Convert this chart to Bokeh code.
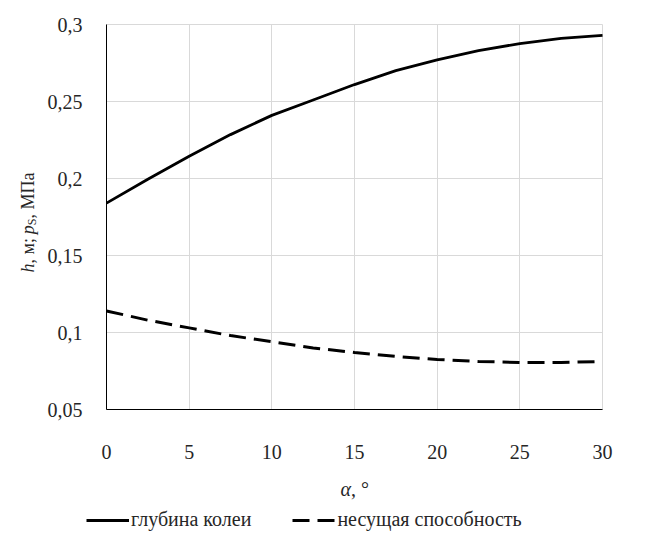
from bokeh.plotting import figure
from bokeh.models import (ColumnDataSource, FixedTicker, Label, Legend, LegendItem,
                          Range1d)
from bokeh.embed import file_html
from bokeh.resources import INLINE

# ---- data ----
alpha = [0, 2.5, 5, 7.5, 10, 12.5, 15, 17.5, 20, 22.5, 25, 27.5, 30]
rut_depth = [0.184, 0.1995, 0.2145, 0.2285, 0.241, 0.251, 0.261, 0.270,
             0.277, 0.283, 0.2876, 0.291, 0.293]
bearing_capacity = [0.114, 0.108, 0.103, 0.098, 0.094, 0.090, 0.087, 0.0845,
                    0.0825, 0.0812, 0.0805, 0.0805, 0.0812]

x_ticks = [0, 5, 10, 15, 20, 25, 30]
y_ticks = [0.05, 0.1, 0.15, 0.2, 0.25, 0.3]
y_tick_labels = ["0,05", "0,1", "0,15", "0,2", "0,25", "0,3"]
series_names = ["глубина колеи", "несущая способность"]

FONT = "Liberation Serif"
TXT = "#262626"
W, H = 665, 532
# plot area in canvas pixels
L, R, T, B = 106, 602, 24, 409
X0, X1 = x_ticks[0], x_ticks[-1]
Y0, Y1 = y_ticks[0], y_ticks[-1]
ux = (X1 - X0) / (R - L)   # data per px
uy = (Y1 - Y0) / (B - T)

src = ColumnDataSource(data=dict(a=alpha, h=rut_depth, p=bearing_capacity))

p = figure(width=W, height=H, output_backend="svg", toolbar_location=None,
           x_range=Range1d(X0 - L * ux, X1 + (W - R) * ux),
           y_range=Range1d(Y0 - (H - B) * uy, Y1 + T * uy),
           min_border=0)
p.outline_line_color = None
p.background_fill_color = "white"
p.border_fill_color = "white"

# grid
grid_ok = hasattr(p.xgrid[0], "cross_bounds")
if grid_ok:
    p.xgrid.cross_bounds = (Y0, Y1)
    p.ygrid.cross_bounds = (X0, X1)
    p.xgrid.grid_line_color = "#d9d9d9"
    p.ygrid.grid_line_color = "#d9d9d9"
else:
    p.xgrid.visible = False
    p.ygrid.visible = False
    p.segment(x0=x_ticks, y0=[Y0] * len(x_ticks), x1=x_ticks, y1=[Y1] * len(x_ticks),
              line_color="#d9d9d9", line_width=1)
    p.segment(x0=[X0] * len(y_ticks), y0=y_ticks, x1=[X1] * len(y_ticks), y1=y_ticks,
              line_color="#d9d9d9", line_width=1)

r1 = p.line("a", "h", source=src, line_color="black", line_width=2.8)
r2 = p.line("a", "p", source=src, line_color="black", line_width=3,
            line_dash="17 8")

# axes (drawn at data positions)
p.xaxis.ticker = FixedTicker(ticks=x_ticks)
p.yaxis.ticker = FixedTicker(ticks=y_ticks)
p.yaxis.major_label_overrides = {t: l for t, l in zip(y_ticks, y_tick_labels)}
p.xaxis.fixed_location = Y0
p.yaxis.fixed_location = X0
p.xaxis.bounds = (X0, X1)
p.yaxis.bounds = (Y0, Y1)
for ax in (p.xaxis[0], p.yaxis[0]):
    ax.major_tick_line_color = None
    ax.minor_tick_line_color = None
    ax.axis_line_color = "black"
    ax.axis_line_width = 1
    ax.major_label_text_font = FONT
    ax.major_label_text_font_size = "20px"
    ax.major_label_text_color = TXT
p.xaxis.major_label_standoff = 29
p.yaxis.major_label_standoff = 18

# x axis title: α, °
xl_y = Y0 - (488 - B) * uy
xj = X0 + (350.5 - L) * ux
p.add_layout(Label(x=xj, y=xl_y, text="α", text_font=FONT, text_font_size="20px",
                   text_font_style="italic", text_color=TXT, text_align="right",
                   text_baseline="middle"))
p.add_layout(Label(x=xj, y=xl_y, text=", °", text_font=FONT, text_font_size="20px",
                   text_color=TXT, text_align="left", text_baseline="middle"))

# y axis title: h, м; p_S, МПа (rotated)
base_x = X0 + (27 - L) * ux
y0 = Y1 - (272 - T) * uy
pieces = [
    ("h", "italic", 18, 0, 0),
    (", м; ", "normal", 18, 0, 9),
    ("p", "italic", 18, 0, 38.3),
    ("S", "normal", 12, 4, 47.3),
    (", МПа", "normal", 18, 0, 54.0),
]
for txt, style, size, dx, dy in pieces:
    p.add_layout(Label(x=base_x + dx * ux, y=y0 + dy * uy, text=txt,
                       angle=1.5707963, text_font=FONT,
                       text_font_size=f"{size}px", text_font_style=style,
                       text_color=TXT, text_align="left",
                       text_baseline="alphabetic"))

legend = Legend(items=[LegendItem(label=series_names[0], renderers=[r1]),
                       LegendItem(label=series_names[1], renderers=[r2])],
                orientation="horizontal", location=(86, 1),
                label_text_font=FONT, label_text_font_size="20px",
                label_text_color=TXT, glyph_width=43, glyph_height=20,
                label_standoff=2, spacing=41, padding=2, margin=0,
                border_line_color=None, background_fill_alpha=0)
p.add_layout(legend, "center")

open("out.html", "w").write(file_html(p, INLINE))
